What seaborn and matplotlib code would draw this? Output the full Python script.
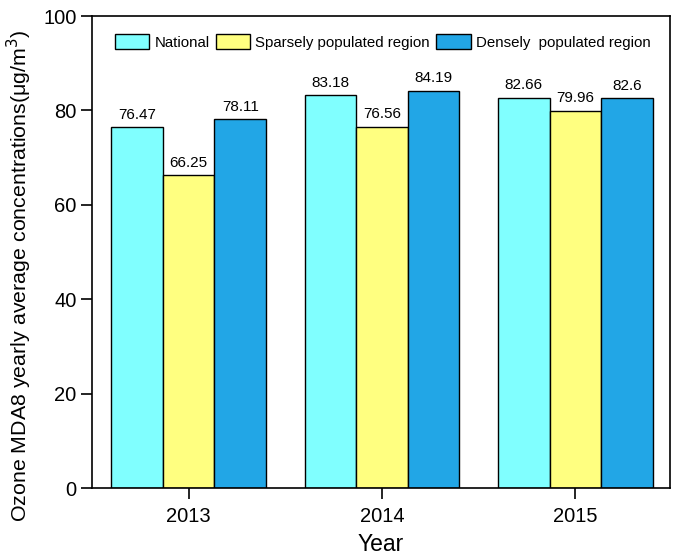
import matplotlib
matplotlib.use("Agg")
import matplotlib.pyplot as plt
import seaborn as sns
import pandas as pd

years = ["2013", "2014", "2015"]
series_names = ["National", "Sparsely populated region", "Densely  populated region"]
national = [76.47, 83.18, 82.66]
sparse = [66.25, 76.56, 79.96]
dense = [78.11, 84.19, 82.6]
label_texts = [["76.47", "83.18", "82.66"], ["66.25", "76.56", "79.96"], ["78.11", "84.19", "82.6"]]
colors = ["#80FFFF", "#FFFF80", "#22A6E6"]

rows = []
for name, vals in zip(series_names, [national, sparse, dense]):
    for y, v in zip(years, vals):
        rows.append({"Year": y, "Series": name, "Value": v})
df = pd.DataFrame(rows)

sns.set_style("ticks")
plt.rcParams["font.family"] = ["Liberation Sans", "DejaVu Sans"]
plt.rcParams["text.color"] = "black"
plt.rcParams["axes.labelcolor"] = "black"

fig = plt.figure(figsize=(6.75, 5.58), dpi=100)
ax = fig.add_axes([92/675, 70/558, (670-92)/675, (488-16)/558])

sns.barplot(data=df, x="Year", y="Value", hue="Series", palette=colors,
            width=0.8, edgecolor="black", linewidth=1.0, saturation=1,
            errorbar=None, ax=ax)

for cont, texts in zip(ax.containers, label_texts):
    ax.bar_label(cont, labels=texts, padding=4, fontsize=11, color="black")

ax.set_ylim(0, 100)
ax.set_xlim(-0.5, 2.49)
ax.set_yticks([0, 20, 40, 60, 80, 100])
ax.tick_params(axis="both", direction="out", length=8, width=1.2, labelsize=14.5,
               colors="black", pad=3)
ax.tick_params(axis="x", pad=6)
for s in ax.spines.values():
    s.set_visible(True)
    s.set_linewidth(1.2)
    s.set_color("black")

ax.set_xlabel("Year", fontsize=16.5, labelpad=5, color="black")
ax.set_ylabel("Ozone MDA8 yearly average concentrations(\u03bcg/m$^3$)", fontsize=15.4, color="black")
ax.yaxis.set_label_coords(-0.1, 0.45)

leg = ax.legend(loc="upper center", bbox_to_anchor=(0.503, 0.99), ncol=3, frameon=False,
                fontsize=10.8, handlelength=2.3, handleheight=1.1, columnspacing=0.4,
                handletextpad=0.35)
for t in leg.get_texts():
    t.set_color("black")

fig.savefig("out.png", dpi=100)
